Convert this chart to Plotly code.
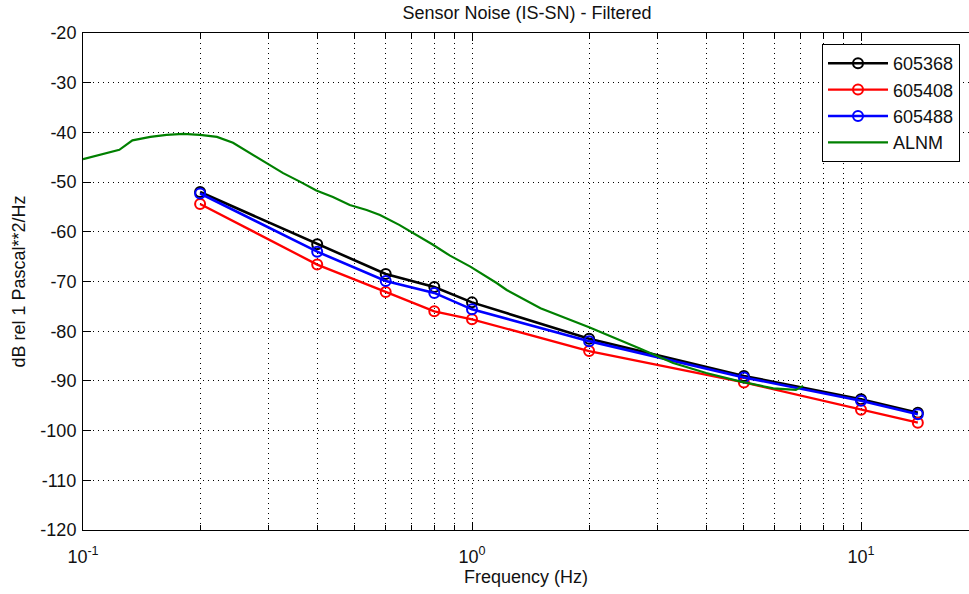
import plotly.graph_objects as go

# ---- data ----
freq = [0.2, 0.4, 0.6, 0.8, 1.0, 2.0, 5.0, 10.0, 14.0]
s605368 = [-52.0, -62.5, -68.5, -71.1, -74.2, -81.5, -89.0, -93.7, -96.4]
s605408 = [-54.4, -66.6, -72.1, -76.0, -77.6, -84.0, -90.3, -95.8, -98.4]
s605488 = [-52.3, -64.0, -69.9, -72.3, -75.6, -82.0, -89.3, -94.0, -96.7]

alnm_f = [0.1, 0.117, 0.124, 0.134, 0.149, 0.164, 0.181, 0.2, 0.221, 0.243, 0.274,
          0.297, 0.327, 0.361, 0.398, 0.439, 0.485, 0.536, 0.58, 0.65, 0.72, 0.79,
          0.878, 0.99, 1.157, 1.228, 1.5, 2.0, 2.7, 3.29, 4.0, 4.88, 5.95, 6.8, 7.1]
alnm_v = [-45.4, -44.0, -43.5, -41.6, -40.9, -40.5, -40.3, -40.5, -40.9, -42.1, -44.5,
          -46.2, -48.2, -49.9, -51.7, -53.0, -54.6, -55.6, -56.6, -58.6, -60.6, -62.5,
          -64.8, -67.0, -70.3, -71.7, -75.4, -79.2, -83.5, -86.4, -88.4, -90.1, -91.5, -91.8, -91.0]

x_major = [0.1, 1, 10]
x_major_text = ["10<sup>-1</sup>", "10<sup>0</sup>", "10<sup>1</sup>"]
x_minor = [0.2, 0.3, 0.4, 0.5, 0.6, 0.7, 0.8, 0.9, 2, 3, 4, 5, 6, 7, 8, 9, 20]
y_ticks = [-120, -110, -100, -90, -80, -70, -60, -50, -40, -30, -20]
y_tick_text = ["-120", "-110", "-100", "-90", "-80", "-70", "-60", "-50", "-40", "-30", "-20"]

FONT = "Liberation Sans, Arial, sans-serif"
FS = 18
DOT = "1px,4px"

fig = go.Figure()
series = [("605368", s605368, "black", 2.6),
          ("605408", s605408, "red", 2.3),
          ("605488", s605488, "blue", 2.6)]
for name, vals, col, w in series:
    fig.add_trace(go.Scatter(
        x=freq, y=vals, name=name, mode="lines+markers", legendgroup=name,
        line=dict(color=col, width=w),
        marker=dict(symbol="circle-open", size=10, color=col, line=dict(width=2, color=col)),
    ))
fig.add_trace(go.Scatter(
    x=alnm_f, y=alnm_v, name="ALNM", mode="lines", legendgroup="ALNM",
    line=dict(color="rgb(0,128,0)", width=2.2),
))

fig.update_layout(
    width=969, height=594,
    margin=dict(l=83, r=0, t=33, b=64, autoexpand=False),
    paper_bgcolor="white", plot_bgcolor="white",
    font=dict(family=FONT, size=FS, color="#111"),
    title=dict(text="Sensor Noise (IS-SN) - Filtered", x=527/969, xanchor="center",
               y=1-13/594, yanchor="middle", font=dict(size=FS, family=FONT, color="#111")),
    showlegend=True,
    legend=dict(x=(822-83)/886, y=(530-44)/497, xanchor="left", yanchor="top",
                bgcolor="white", bordercolor="black", borderwidth=1,
                font=dict(size=FS, family=FONT, color="#111"),
                itemwidth=60, tracegroupgap=0),
)

fig.update_xaxes(
    type="log", range=[-1, (969-83)/389 - 1],
    tickmode="array", tickvals=x_major, ticktext=x_major_text,
    ticks="inside", ticklen=8, tickcolor="black",
    showline=True, linecolor="black", linewidth=1, mirror="allticks",
    showgrid=True, gridcolor="black", gridwidth=1, griddash=DOT,
    minor=dict(tickmode="array", tickvals=x_minor, ticks="inside", ticklen=5,
               tickcolor="black", showgrid=True, gridcolor="black", gridwidth=1, griddash=DOT),
    zeroline=False,
    ticklabelstandoff=10,
    title=dict(text="Frequency (Hz)", standoff=0, font=dict(size=FS, family=FONT)),
    tickfont=dict(size=FS, family=FONT),
)
fig.update_yaxes(
    range=[-120, -20], tickmode="array", tickvals=y_ticks, ticktext=y_tick_text,
    ticks="inside", ticklen=8, tickcolor="black",
    showline=True, linecolor="black", linewidth=1, mirror=False,
    showgrid=True, gridcolor="black", gridwidth=1, griddash=DOT,
    zeroline=False,
    title=dict(text="dB rel 1 Pascal**2/Hz", standoff=10, font=dict(size=FS, family=FONT)),
    tickfont=dict(size=FS, family=FONT),
    ticklabelstandoff=2,
)

fig.write_html("out.html")
